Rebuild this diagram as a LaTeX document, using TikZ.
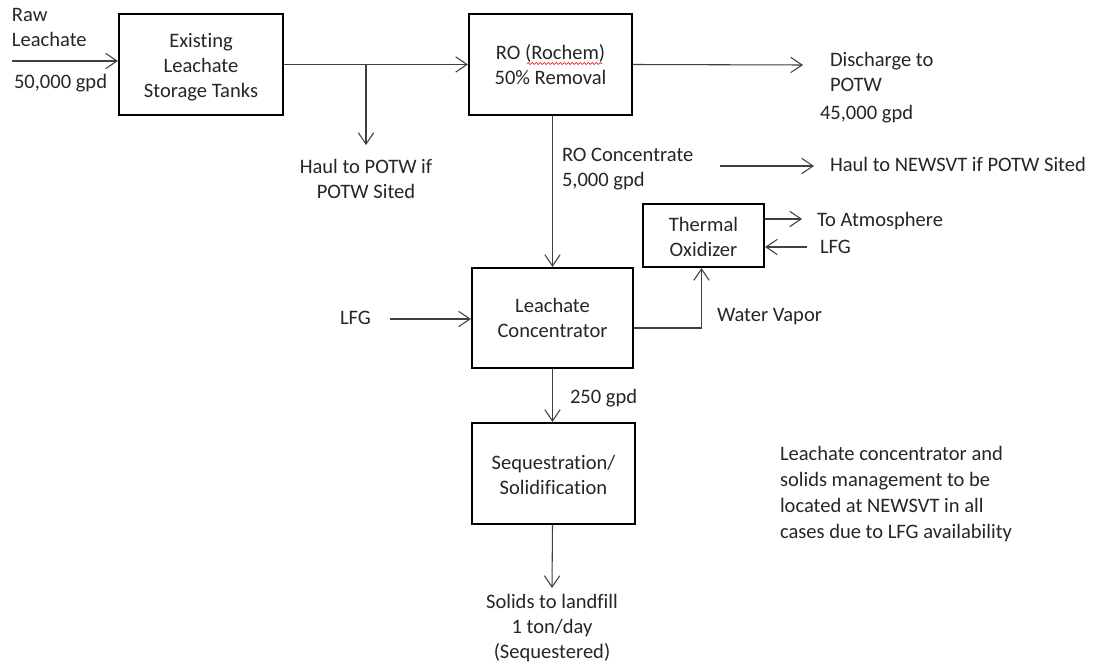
\documentclass[tikz,border=0pt]{standalone}
\usepackage{fontspec}
\setmainfont[Ligatures=NoCommon]{Carlito}
\usetikzlibrary{arrows.meta,decorations.pathmorphing,calc}

\tikzset{
  txt/.style={inner sep=0pt, outer sep=0pt, text=black!85,
    font=\fontsize{15.4pt}{18.75pt}\selectfont},
  ctxt/.style={txt, anchor=north, align=center},
  ltxt/.style={txt, anchor=north west, align=left},
  btxt/.style={txt, anchor=base west},
  procbox/.style={draw=black, line width=1.6pt, fill=none, inner sep=0pt},
  flow/.style={draw=black!75, line width=0.8pt,
    -{Straight Barb[length=8.5pt,width=11.5pt]}},
}

\begin{document}
\begin{tikzpicture}[x=0.75pt, y=-0.75pt]
  \useasboundingbox (0,0) rectangle (1097,663);
  \fill[white] (0,0) rectangle (1097,663);

  % process boxes
  \node[procbox, minimum width=123pt, minimum height=75.75pt] (tanks) at (201,64.5) {};
  \node[procbox, minimum width=122.25pt, minimum height=75.75pt] (ro) at (550.5,64.5) {};
  \node[procbox, minimum width=90.75pt, minimum height=47.25pt] (thermal) at (703.5,235.5) {};
  \node[procbox, minimum width=120.75pt, minimum height=75pt] (conc) at (552.5,318) {};
  \node[procbox, minimum width=122.25pt, minimum height=75.75pt] (seq) at (553.5,473.5) {};

  % box labels
  \node[ctxt] (tanks-t) at (201,30.5) {\strut Existing\\Leachate\\Storage Tanks};
  \node[ctxt] (ro-t) at (550.5,42.5) {\strut RO (Rochem)\\50\% Removal};
  \node[ctxt] (thermal-t) at (703.5,214.5) {\strut Thermal\\Oxidizer};
  \node[ctxt] (conc-t) at (552.5,295.5) {\strut Leachate\\Concentrator};
  \node[ctxt] (seq-t) at (553.5,451.5) {\strut Sequestration/\\Solidification};

  % spell-check squiggle under the vendor name
  \draw[red!85!black, line width=0.45pt,
        decorate, decoration={snake, amplitude=0.7pt, segment length=3pt}]
        (527,63.5) -- (602,63.5);

  % stream labels
  \node[ltxt] (raw) at (12,4.5) {\strut Raw\\Leachate};
  \node[btxt] (rawq) at (14,89) {50,000 gpd};
  \node[ctxt] (haul1) at (366,156.5) {\strut Haul to POTW if\\POTW Sited};
  \node[ltxt] (disch) at (830,49.5) {\strut Discharge to\\POTW};
  \node[btxt] (dischq) at (820,120) {45,000 gpd};
  \node[ltxt] (roconc) at (562,144.5) {\strut RO Concentrate\\5,000 gpd};
  \node[btxt] (haul2) at (830,172) {Haul to NEWSVT if POTW Sited};
  \node[btxt] (atm) at (817,227) {To Atmosphere};
  \node[btxt] (lfg2) at (820,253) {LFG};
  \node[btxt] (lfg1) at (340,325) {LFG};
  \node[btxt] (vapor) at (717,321) {Water Vapor};
  \node[btxt] (conc-q) at (570,403) {250 gpd};
  \node[ctxt] (solids) at (552,590.5) {\strut Solids to landfill\\1 ton/day\\(Sequestered)};
  \node[ltxt, font=\fontsize{15.4pt}{19.5pt}\selectfont] (note) at (780,441.8)
    {\strut Leachate concentrator and\\solids management to be\\located at NEWSVT in all\\cases due to LFG availability};

  % free ends of the streams
  \coordinate (rawin) at (12,61);
  \coordinate (split) at (366,65);
  \coordinate (haul1-end) at (366,145);
  \coordinate (disch-end) at (803,65);
  \coordinate (haul2-start) at (720,166);
  \coordinate (haul2-end) at (814,166);
  \coordinate (atm-end) at (802,219);
  \coordinate (lfg2-start) at (807,247);
  \coordinate (lfg1-start) at (390,319);
  \coordinate (vapor-out) at (633,328);
  \coordinate (solids-end) at (552,588);

  % connectors
  \draw[flow] (rawin) -- (rawin -| tanks.west);
  \draw[flow] (tanks.east) -- (ro.west);
  \draw[flow] (split) -- (haul1-end);
  \draw[flow] (ro.east) -- (disch-end);
  \draw[flow] (conc.north |- ro.south) -- (conc.north);
  \draw[flow] (haul2-start) -- (haul2-end);
  \draw[flow] (atm-end -| thermal.east) -- (atm-end);
  \draw[flow] (lfg2-start) -- (lfg2-start -| thermal.east);
  \draw[flow] (lfg1-start) -- (lfg1-start -| conc.west);
  \draw[flow] (vapor-out -| conc.east) -| ([xshift=-1.5pt]thermal.south);
  \draw[flow] (conc.south) -- (conc.south |- seq.north);
  \draw[flow] (seq.south -| conc.south) -- (solids-end);
\end{tikzpicture}
\end{document}
